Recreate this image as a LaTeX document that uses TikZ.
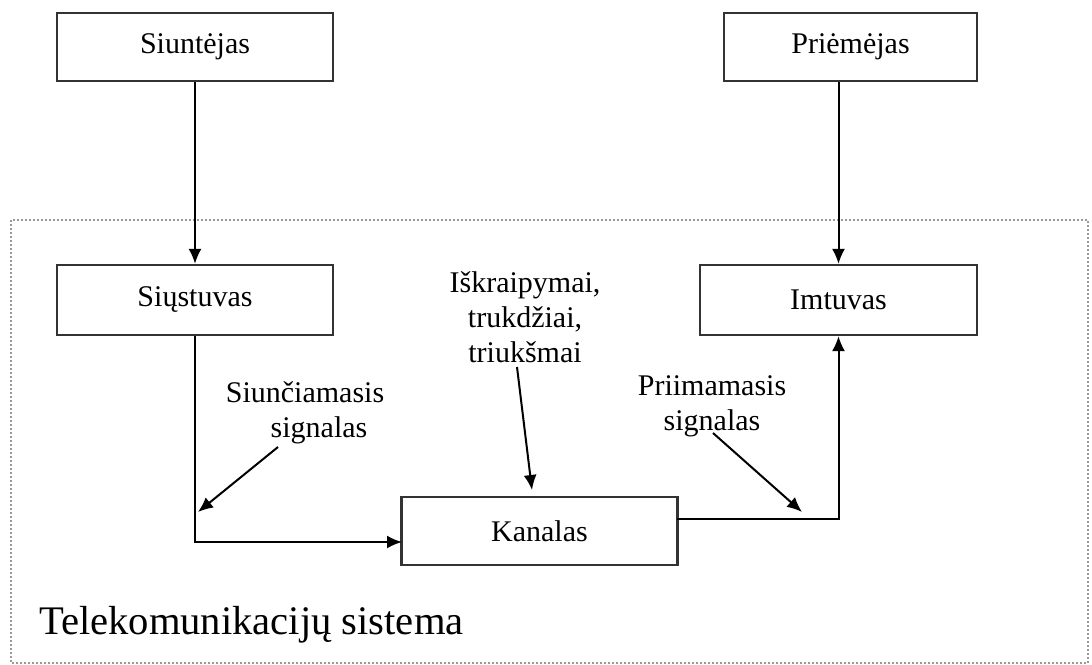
\documentclass[tikz,border=0pt]{standalone}
\usepackage{fontspec}
\setmainfont{Liberation Serif}
\usetikzlibrary{arrows.meta,positioning}

\begin{document}
\begin{tikzpicture}[x=0.5pt,y=-0.5pt,>={Latex[length=7.5pt,width=6.5pt]},
  blok/.style={draw=black!80,line width=1.1pt,minimum width=138pt,minimum height=34pt,inner sep=0pt,font=\fontsize{15}{17.5}\selectfont},
  rod/.style={->,line width=1pt},
  zyme/.style={align=center,inner sep=0pt,font=\fontsize{15}{17.5}\selectfont}]
  \useasboundingbox (0,0) rectangle (1092,664);
  \draw[gray!80,densely dotted,line width=1pt] (11,220) rectangle (1088,663);
  \node[font=\fontsize{20.3}{24}\selectfont,anchor=base west] (sist) at (32,634) {Telekomunikacijų sistema};
  \node[blok] (siunt) at (195,47) {Siuntėjas};
  \node[blok,minimum width=126.5pt] (priem) at (850.5,47) {Priėmėjas};
  \node[blok,minimum height=35pt] (sius) at (195,300) {Siųstuvas};
  \node[blok,minimum width=138.5pt,minimum height=35pt] (imt) at (838.5,300) {Imtuvas};
  \node[blok] (kan) at (539.5,531) {Kanalas};
  \node[zyme] (siunc) at (305,413) {Siunčiamasis\\\hspace*{14pt}signalas};
  \node[zyme] (trikd) at (525,317) {Iškraipymai,\\trukdžiai,\\triukšmai};
  \node[zyme] (priim) at (712,406) {Priimamasis\\signalas};
  % signalo kelias
  \coordinate (kin) at (402,542);
  \coordinate (kout) at (677,519);
  \draw[rod] (siunt) -- (sius);
  \draw[rod] (priem.south -| imt.north) -- (imt);
  \draw[rod] (sius) |- (kin);
  \draw[rod] (kout) -| (imt);
  % zymiu rodykles
  \coordinate (s1) at (278,447); \coordinate (s2) at (198,512);
  \coordinate (t1) at (517,367); \coordinate (t2) at (532,490);
  \coordinate (p1) at (713,433); \coordinate (p2) at (802,512);
  \draw[rod] (s1) -- (s2);
  \draw[rod] (t1) -- (t2);
  \draw[rod] (p1) -- (p2);
\end{tikzpicture}
\end{document}
